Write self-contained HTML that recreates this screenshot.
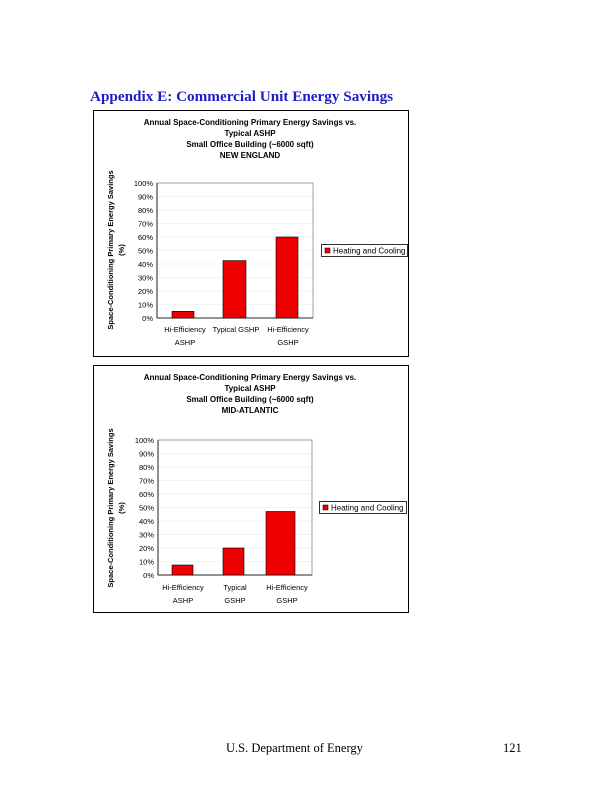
<!DOCTYPE html>
<html><head><style>
html,body{margin:0;padding:0;background:#fff;}
svg{display:block;}
</style></head><body>
<svg width="612" height="792" xmlns="http://www.w3.org/2000/svg" font-family="Liberation Sans, sans-serif">
<text x="90" y="101" font-family="Liberation Serif, serif" font-weight="bold" font-size="15.2" fill="#1c1cc8">Appendix E:  Commercial Unit Energy Savings</text>

<!-- Chart 1 -->
<g>
<rect x="93.5" y="110.5" width="315" height="246" fill="#fff" stroke="#000" stroke-width="1"/>
<g font-size="8" font-weight="bold" text-anchor="middle" fill="#000">
<text x="250" y="125">Annual Space-Conditioning Primary Energy Savings vs.</text>
<text x="250" y="136">Typical ASHP</text>
<text x="250" y="147">Small Office Building (~6000 sqft)</text>
<text x="250" y="158">NEW ENGLAND</text>
</g>
<g stroke="#e8e8e8" stroke-width="0.6">
<line x1="157" x2="313" y1="196.5" y2="196.5"/><line x1="157" x2="313" y1="210" y2="210"/><line x1="157" x2="313" y1="223.5" y2="223.5"/><line x1="157" x2="313" y1="237" y2="237"/><line x1="157" x2="313" y1="250.5" y2="250.5"/><line x1="157" x2="313" y1="264" y2="264"/><line x1="157" x2="313" y1="277.5" y2="277.5"/><line x1="157" x2="313" y1="291" y2="291"/><line x1="157" x2="313" y1="304.5" y2="304.5"/>
</g>
<rect x="157" y="183" width="156" height="135" fill="none" stroke="#888" stroke-width="0.8"/>
<line x1="157" x2="157" y1="183" y2="318" stroke="#000" stroke-width="0.8"/>
<line x1="157" x2="313" y1="318" y2="318" stroke="#000" stroke-width="0.8"/>
<rect x="172" y="311.3" width="22" height="6.7" fill="#ee0000" stroke="#000" stroke-width="0.6"/>
<rect x="223" y="260.6" width="23" height="57.4" fill="#ee0000" stroke="#000" stroke-width="0.6"/>
<rect x="276" y="237" width="22" height="81" fill="#ee0000" stroke="#000" stroke-width="0.6"/>
<g font-size="7.5" text-anchor="end">
<text x="153" y="186">100%</text><text x="153" y="199.5">90%</text><text x="153" y="213">80%</text><text x="153" y="226.5">70%</text><text x="153" y="240">60%</text><text x="153" y="253.5">50%</text><text x="153" y="267">40%</text><text x="153" y="280.5">30%</text><text x="153" y="294">20%</text><text x="153" y="307.5">10%</text><text x="153" y="321">0%</text>
</g>
<g font-size="7.5" text-anchor="middle">
<text x="185" y="332">Hi-Efficiency</text><text x="185" y="345">ASHP</text>
<text x="236" y="332">Typical GSHP</text>
<text x="288" y="332">Hi-Efficiency</text><text x="288" y="345">GSHP</text>
</g>
<g font-size="7.5" font-weight="bold" text-anchor="middle">
<text transform="translate(113,250) rotate(-90)">Space-Conditioning Primary Energy Savings</text>
<text transform="translate(124,250) rotate(-90)">(%)</text>
</g>
<rect x="321.5" y="244.5" width="86" height="12" fill="#fff" stroke="#000" stroke-width="0.8"/>
<rect x="325" y="248" width="5" height="5" fill="#ee0000" stroke="#000" stroke-width="0.5"/>
<text x="333" y="253.5" font-size="8">Heating and Cooling</text>
</g>

<!-- Chart 2 -->
<g>
<rect x="93.5" y="365.5" width="315" height="247" fill="#fff" stroke="#000" stroke-width="1"/>
<g font-size="8" font-weight="bold" text-anchor="middle" fill="#000">
<text x="250" y="380">Annual Space-Conditioning Primary Energy Savings vs.</text>
<text x="250" y="391">Typical ASHP</text>
<text x="250" y="402">Small Office Building (~6000 sqft)</text>
<text x="250" y="413">MID-ATLANTIC</text>
</g>
<g stroke="#e8e8e8" stroke-width="0.6">
<line x1="158" x2="312" y1="453.5" y2="453.5"/><line x1="158" x2="312" y1="467" y2="467"/><line x1="158" x2="312" y1="480.5" y2="480.5"/><line x1="158" x2="312" y1="494" y2="494"/><line x1="158" x2="312" y1="507.5" y2="507.5"/><line x1="158" x2="312" y1="521" y2="521"/><line x1="158" x2="312" y1="534.5" y2="534.5"/><line x1="158" x2="312" y1="548" y2="548"/><line x1="158" x2="312" y1="561.5" y2="561.5"/>
</g>
<rect x="158" y="440" width="154" height="135" fill="none" stroke="#888" stroke-width="0.8"/>
<line x1="158" x2="158" y1="440" y2="575" stroke="#000" stroke-width="0.8"/>
<line x1="158" x2="312" y1="575" y2="575" stroke="#000" stroke-width="0.8"/>
<rect x="172" y="565" width="21" height="10" fill="#ee0000" stroke="#000" stroke-width="0.6"/>
<rect x="223" y="548" width="21" height="27" fill="#ee0000" stroke="#000" stroke-width="0.6"/>
<rect x="266" y="511.5" width="29" height="63.5" fill="#ee0000" stroke="#000" stroke-width="0.6"/>
<g font-size="7.5" text-anchor="end">
<text x="154" y="443">100%</text><text x="154" y="456.5">90%</text><text x="154" y="470">80%</text><text x="154" y="483.5">70%</text><text x="154" y="497">60%</text><text x="154" y="510.5">50%</text><text x="154" y="524">40%</text><text x="154" y="537.5">30%</text><text x="154" y="551">20%</text><text x="154" y="564.5">10%</text><text x="154" y="578">0%</text>
</g>
<g font-size="7.5" text-anchor="middle">
<text x="183" y="590">Hi-Efficiency</text><text x="183" y="603">ASHP</text>
<text x="235" y="590">Typical</text><text x="235" y="603">GSHP</text>
<text x="287" y="590">Hi-Efficiency</text><text x="287" y="603">GSHP</text>
</g>
<g font-size="7.5" font-weight="bold" text-anchor="middle">
<text transform="translate(113,508) rotate(-90)">Space-Conditioning Primary Energy Savings</text>
<text transform="translate(124,508) rotate(-90)">(%)</text>
</g>
<rect x="319.5" y="501.5" width="87" height="12" fill="#fff" stroke="#000" stroke-width="0.8"/>
<rect x="323" y="505" width="5" height="5" fill="#ee0000" stroke="#000" stroke-width="0.5"/>
<text x="331" y="510.5" font-size="8">Heating and Cooling</text>
</g>

<text x="226" y="752" font-family="Liberation Serif, serif" font-size="12.5">U.S. Department of Energy</text>
<text x="503" y="752" font-family="Liberation Serif, serif" font-size="12.5">121</text>
</svg>
</body></html>
